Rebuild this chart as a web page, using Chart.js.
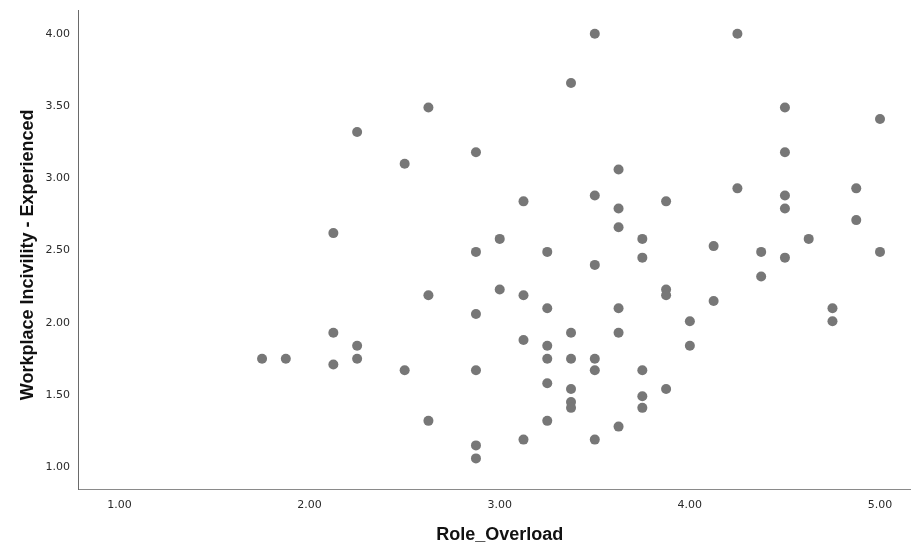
<!DOCTYPE html>
<html>
<head>
<meta charset="utf-8">
<script src="https://cdn.jsdelivr.net/npm/chart.js@4/dist/chart.umd.min.js"></script>
<style>
  html, body { margin: 0; padding: 0; background: #ffffff; }
  #wrap { width: 911px; height: 544px; }
</style>
</head>
<body>
<div id="wrap"><canvas id="c" width="911" height="544"></canvas></div>
<script>
// Role_Overload (x) values
const roleOverload = [
  1.75, 1.875,
  2.125, 2.125, 2.125,
  2.25, 2.25, 2.25,
  2.5, 2.5,
  2.625, 2.625, 2.625,
  2.875, 2.875, 2.875, 2.875, 2.875, 2.875,
  3.0, 3.0,
  3.125, 3.125, 3.125, 3.125,
  3.25, 3.25, 3.25, 3.25, 3.25, 3.25,
  3.375, 3.375, 3.375, 3.375, 3.375, 3.375,
  3.5, 3.5, 3.5, 3.5, 3.5, 3.5,
  3.625, 3.625, 3.625, 3.625, 3.625, 3.625,
  3.75, 3.75, 3.75, 3.75, 3.75,
  3.875, 3.875, 3.875, 3.875,
  4.0, 4.0,
  4.125, 4.125,
  4.25, 4.25,
  4.375, 4.375,
  4.5, 4.5, 4.5, 4.5, 4.5,
  4.625,
  4.75, 4.75,
  4.875, 4.875,
  5.0, 5.0
];
// Workplace Incivility - Experienced (y) values
const incivility = [
  1.75, 1.75,
  2.62, 1.93, 1.71,
  3.32, 1.84, 1.75,
  3.10, 1.67,
  3.49, 2.19, 1.32,
  3.18, 2.49, 2.06, 1.67, 1.15, 1.06,
  2.58, 2.23,
  2.84, 2.19, 1.88, 1.19,
  2.49, 2.10, 1.84, 1.75, 1.58, 1.32,
  3.66, 1.93, 1.75, 1.54, 1.45, 1.41,
  4.00, 2.88, 2.40, 1.75, 1.67, 1.19,
  3.06, 2.79, 2.66, 2.10, 1.93, 1.28,
  2.58, 2.45, 1.67, 1.49, 1.41,
  2.84, 2.23, 2.19, 1.54,
  2.01, 1.84,
  2.53, 2.15,
  4.00, 2.93,
  2.49, 2.32,
  3.49, 3.18, 2.88, 2.79, 2.45,
  2.58,
  2.10, 2.01,
  2.93, 2.71,
  3.41, 2.49
];
const xTickValues = [1, 2, 3, 4, 5];
const yTickValues = [1, 1.5, 2, 2.5, 3, 3.5, 4];
const xTitle = 'Role_Overload';
const yTitle = 'Workplace Incivility - Experienced';
const xTitleCenterValue = 3;
const yTitleCenterValue = 2.47;

const points = roleOverload.map((x, i) => ({ x: x, y: incivility[i] }));

// Center the axis titles on given values of their scales (as in the reference)
function shiftTitle(s, centerValue) {
  if (!s._origDrawTitle) s._origDrawTitle = s.drawTitle;
  s.drawTitle = function () {
    const ctx = this.ctx;
    let dx = 0, dy = 0;
    if (this.isHorizontal()) dx = this.getPixelForValue(centerValue) - (this.left + this.right) / 2;
    else dy = this.getPixelForValue(centerValue) - (this.top + this.bottom) / 2;
    ctx.save();
    ctx.translate(dx, dy);
    this._origDrawTitle.apply(this, arguments);
    ctx.restore();
  };
}
const titleShift = {
  id: 'titleShift',
  afterLayout(chart) {
    shiftTitle(chart.scales.x, xTitleCenterValue);
    shiftTitle(chart.scales.y, yTitleCenterValue);
  }
};

new Chart(document.getElementById('c'), {
  type: 'scatter',
  data: {
    datasets: [{
      data: points,
      backgroundColor: '#777777',
      borderColor: '#777777',
      borderWidth: 0,
      pointRadius: 5,
      pointHoverRadius: 5
    }]
  },
  plugins: [titleShift],
  options: {
    responsive: false,
    animation: false,
    layout: { autoPadding: false, padding: { top: 10, right: 0, bottom: 0, left: 0 } },
    plugins: { legend: { display: false }, tooltip: { enabled: false } },
    scales: {
      x: {
        type: 'linear',
        min: 0.782,
        max: 5.163,
        afterFit: s => { s.height = 55; s.paddingLeft = 0; s.paddingRight = 0; },
        afterBuildTicks: s => { s.ticks = xTickValues.map(v => ({ value: v })); },
        grid: { display: false, drawTicks: false },
        border: { display: true, color: '#8a8a8a', width: 1 },
        ticks: {
          padding: 10,
          color: '#2a2a2a',
          font: { family: 'DejaVu Sans', size: 11 },
          callback: v => Number(v).toFixed(2)
        },
        title: {
          display: true,
          text: xTitle,
          color: '#111111',
          font: { family: 'Liberation Sans', size: 18, weight: 'bold', lineHeight: 1 },
          padding: { top: 0, bottom: 0 }
        }
      },
      y: {
        type: 'linear',
        min: 0.848,
        max: 4.165,
        afterFit: s => { s.width = 78; s.paddingTop = 0; s.paddingBottom = 0; },
        afterBuildTicks: s => { s.ticks = yTickValues.map(v => ({ value: v })); },
        grid: { display: false, drawTicks: false },
        border: { display: true, color: '#6a6a6a', width: 1 },
        ticks: {
          padding: 8,
          color: '#2a2a2a',
          font: { family: 'DejaVu Sans', size: 11 },
          callback: v => Number(v).toFixed(2)
        },
        title: {
          display: true,
          text: yTitle,
          color: '#111111',
          font: { family: 'Liberation Sans', size: 18, weight: 'bold', lineHeight: 1 },
          padding: { top: 19, bottom: 0 }
        }
      }
    }
  }
});
</script>
</body>
</html>
